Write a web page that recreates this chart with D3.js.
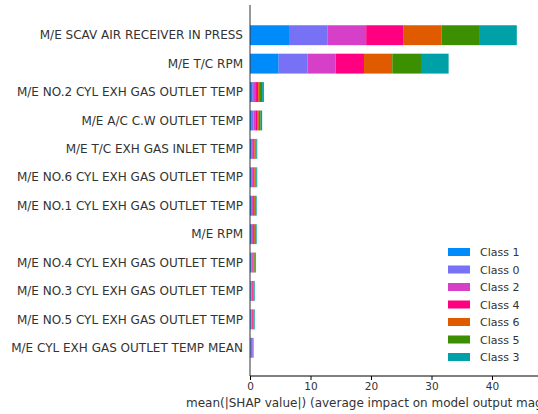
<!DOCTYPE html><html><head><script src="https://cdn.jsdelivr.net/npm/d3@7"></script>
<style>body{margin:0;background:#fff;overflow:hidden}text{font-family:"DejaVu Sans",sans-serif}</style></head><body><svg id="c" width="538" height="414"></svg><script>
const features=["M/E SCAV AIR RECEIVER IN PRESS","M/E T/C RPM","M/E NO.2 CYL EXH GAS OUTLET TEMP","M/E A/C C.W OUTLET TEMP","M/E T/C EXH GAS INLET TEMP","M/E NO.6 CYL EXH GAS OUTLET TEMP","M/E NO.1 CYL EXH GAS OUTLET TEMP","M/E RPM","M/E NO.4 CYL EXH GAS OUTLET TEMP","M/E NO.3 CYL EXH GAS OUTLET TEMP","M/E NO.5 CYL EXH GAS OUTLET TEMP","M/E CYL EXH GAS OUTLET TEMP MEAN"];
const classes=["Class 1","Class 0","Class 2","Class 4","Class 6","Class 5","Class 3"];
const colors=["#008bfb","#7671f5","#d63fc8","#ff0080","#e05a00","#3b8f00","#00a0a8"];
const values=[
[6.45,6.4,6.35,6.2,6.3,6.3,6.1],
[4.74,4.74,4.68,4.68,4.68,4.74,4.57],
[0.35,0.3,0.35,0.35,0.3,0.35,0.3],
[0.3,0.28,0.3,0.3,0.28,0.3,0.25],
[0.18,0.17,0.18,0.18,0.17,0.17,0.15],
[0.18,0.17,0.18,0.18,0.17,0.17,0.15],
[0.16,0.16,0.16,0.16,0.16,0.16,0.14],
[0.16,0.16,0.16,0.16,0.16,0.16,0.14],
[0.15,0.14,0.15,0.14,0.14,0.15,0.13],
[0.12,0.12,0.12,0.12,0.12,0.1,0.1],
[0.12,0.12,0.12,0.12,0.12,0.1,0.1],
[0.1,0.35,0.05,0.04,0.03,0.02,0.02]];
const ticks=[0,10,20,30,40];
const svg=d3.select("#c");
const x=d3.scaleLinear().domain([0,40]).range([250,492]);
const y=d3.scaleBand().domain(features).range([21,362]).paddingInner(0.3).paddingOuter(0.15);
features.forEach((f,i)=>{let acc=0;values[i].forEach((v,j)=>{svg.append("rect").attr("x",x(acc)).attr("y",y(f)).attr("width",x(acc+v)-x(acc)).attr("height",y.bandwidth()).attr("fill",colors[j]);acc+=v;});
svg.append("text").attr("x",243).attr("y",y(f)+y.bandwidth()/2).attr("dy","0.35em").attr("text-anchor","end").attr("font-size",12).attr("fill","#333").text(f);});
svg.append("line").attr("x1",250).attr("x2",250).attr("y1",5).attr("y2",376).attr("stroke","#333");
const ax=svg.append("g").attr("transform","translate(0,376)").call(d3.axisBottom(x).tickValues(ticks).tickSize(4));
ax.select(".domain").attr("d","M250,0H538");
ax.selectAll("text").attr("font-size",10.5).attr("fill","#333").attr("font-family","DejaVu Sans");
svg.append("text").attr("x",186).attr("y",407).attr("font-size",12).attr("fill","#333").text("mean(|SHAP value|) (average impact on model output magnitude)");
classes.forEach((c,i)=>{const g=svg.append("g").attr("transform",`translate(448,${247+i*17.5})`);g.append("rect").attr("width",22).attr("height",8).attr("y",1).attr("fill",colors[i]);g.append("text").attr("x",32).attr("y",9).attr("font-size",11).attr("fill","#333").text(c);});
</script></body></html>
